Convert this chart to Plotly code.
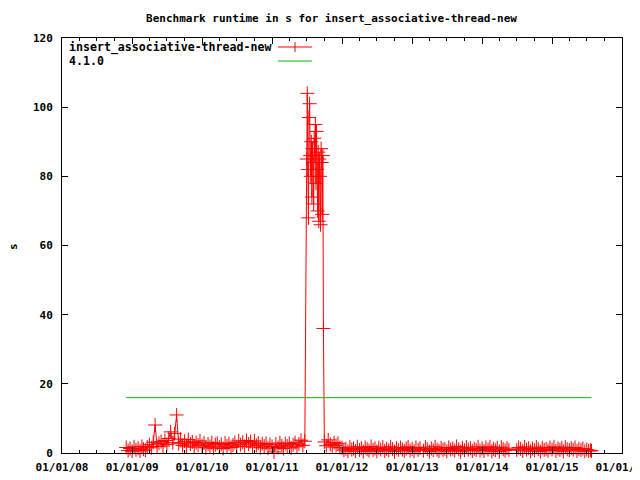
import plotly.graph_objects as go

# ---------------- data ----------------
dates_a = ["2008-12-01", "2008-12-11", "2008-12-21", "2009-01-01", "2009-01-11", "2009-01-21",
           "2009-02-01", "2009-02-11", "2009-02-21", "2009-03-01", "2009-03-11", "2009-03-21"]
vals_a = [1.6, 0.7, 1.3, 0.5, 1.8, 0.9, 1.4, 0.6, 1.9, 1.1, 0.8, 1.7]

dates_b = ["2009-04-01", "2009-04-11", "2009-04-21", "2009-05-01", "2009-05-11", "2009-05-21",
           "2009-06-01", "2009-06-11", "2009-06-21", "2009-07-01", "2009-07-11", "2009-07-21",
           "2009-08-01", "2009-08-11", "2009-08-21", "2009-09-01", "2009-09-11", "2009-09-21",
           "2009-10-01", "2009-10-11", "2009-10-21", "2009-11-01", "2009-11-11", "2009-11-21",
           "2009-12-01", "2009-12-11", "2009-12-21"]
vals_b = [2.4, 1.5, 3.1, 8.1, 1.9, 2.8, 3.3, 2.0, 3.6, 2.5, 4.2, 6.1, 3.0, 5.6, 11.0,
          2.7, 4.0, 2.2, 3.4, 1.8, 3.9, 2.6, 3.2, 1.7, 3.0, 2.3, 3.5]

dates_c = ["2010-01-01", "2010-01-11", "2010-01-21", "2010-02-01", "2010-02-11", "2010-02-21",
           "2010-03-01", "2010-03-11", "2010-03-21", "2010-04-01", "2010-04-11", "2010-04-21",
           "2010-05-01", "2010-05-11", "2010-05-21", "2010-06-01", "2010-06-11", "2010-06-21",
           "2010-07-01", "2010-07-11", "2010-07-21", "2010-08-01", "2010-08-11", "2010-08-21",
           "2010-09-01", "2010-09-11", "2010-09-21", "2010-10-01", "2010-10-11", "2010-10-21",
           "2010-11-01", "2010-11-11", "2010-11-21", "2010-12-01", "2010-12-11", "2010-12-21",
           "2011-01-01", "2011-01-11", "2011-01-21", "2011-02-01", "2011-02-11", "2011-02-21",
           "2011-03-01", "2011-03-11", "2011-03-21", "2011-04-01", "2011-04-11", "2011-04-21",
           "2011-05-01", "2011-05-11", "2011-05-21", "2011-06-01", "2011-06-11", "2011-06-21"]
vals_c = [2.1, 2.9, 1.5, 2.6, 1.9, 3.0, 1.4, 2.4, 2.8, 1.7, 2.5, 1.3, 2.9, 2.0, 2.7, 1.6, 2.3, 3.0,
          1.8, 3.5, 2.4, 3.1, 1.9, 3.6, 2.6, 3.3, 1.7, 3.5, 2.2, 2.9, 1.5, 2.7, 2.0, 2.8, 1.4, 2.5,
          1.9, 0.3, 2.6, 1.6, 2.9, 2.1, 1.3, 2.7, 2.0, 2.8, 1.5, 2.4, 3.0, 1.8, 2.6, 3.7, 2.2, 3.4]

dates_spike = ["2011-07-01", "2011-07-04", "2011-07-07", "2011-07-10", "2011-07-13", "2011-07-16",
               "2011-07-19", "2011-07-22", "2011-07-25", "2011-07-28", "2011-07-31", "2011-08-03",
               "2011-08-06", "2011-08-09", "2011-08-12", "2011-08-15", "2011-08-18", "2011-08-21",
               "2011-08-24", "2011-08-27", "2011-08-30", "2011-09-02", "2011-09-05", "2011-09-08",
               "2011-09-11", "2011-09-14", "2011-09-17", "2011-09-20", "2011-09-23", "2011-09-26"]
vals_spike = [85, 104, 82, 68, 97, 101, 86, 80, 90, 74, 88, 84, 72, 91, 86, 95, 78, 93, 82, 70,
              87, 67, 85, 80, 66, 88, 84, 69, 86, 36]

dates_d = ["2011-10-01", "2011-10-11", "2011-10-21", "2011-11-01", "2011-11-11", "2011-11-21",
           "2011-12-01", "2011-12-11", "2011-12-21"]
vals_d = [3.2, 2.1, 3.8, 2.5, 1.7, 3.0, 2.2, 2.8, 1.6]

dates_e = ["2012-01-01", "2012-01-11", "2012-01-21", "2012-02-01", "2012-02-11", "2012-02-21",
           "2012-03-01", "2012-03-11", "2012-03-21", "2012-04-01", "2012-04-11", "2012-04-21",
           "2012-05-01", "2012-05-11", "2012-05-21", "2012-06-01", "2012-06-11", "2012-06-21",
           "2012-07-01", "2012-07-11", "2012-07-21", "2012-08-01", "2012-08-11", "2012-08-21",
           "2012-09-01", "2012-09-11", "2012-09-21", "2012-10-01", "2012-10-11", "2012-10-21",
           "2012-11-01", "2012-11-11", "2012-11-21", "2012-12-01", "2012-12-11", "2012-12-21",
           "2013-01-01", "2013-01-11", "2013-01-21", "2013-02-01", "2013-02-11",
           "2013-03-01", "2013-03-11", "2013-03-21", "2013-04-01", "2013-04-11", "2013-04-21",
           "2013-05-01", "2013-05-11", "2013-05-21", "2013-06-01", "2013-06-11", "2013-06-21",
           "2013-07-01", "2013-07-11", "2013-07-21", "2013-08-01", "2013-08-11", "2013-08-21",
           "2013-09-01", "2013-09-11", "2013-09-21", "2013-10-01", "2013-10-11", "2013-10-21",
           "2013-11-01", "2013-11-11", "2013-11-21", "2013-12-01", "2013-12-11", "2013-12-21",
           "2014-01-01", "2014-01-11", "2014-01-21", "2014-02-01", "2014-02-11", "2014-02-21",
           "2014-03-01", "2014-03-11", "2014-03-21", "2014-04-01", "2014-04-11", "2014-04-21",
           "2014-05-01", "2014-05-11", "2014-05-21",
           "2014-07-01", "2014-07-11", "2014-07-21", "2014-08-01", "2014-08-11", "2014-08-21",
           "2014-09-01", "2014-09-11", "2014-09-21", "2014-10-01", "2014-10-11", "2014-10-21",
           "2014-11-01", "2014-11-11", "2014-11-21", "2014-12-01", "2014-12-11", "2014-12-21",
           "2015-01-01", "2015-01-11", "2015-01-21", "2015-02-01", "2015-02-11", "2015-02-21",
           "2015-03-01", "2015-03-11", "2015-03-21", "2015-04-01", "2015-04-11", "2015-04-21",
           "2015-05-01", "2015-05-11", "2015-05-21", "2015-06-01", "2015-06-11", "2015-06-21",
           "2015-07-01", "2015-07-11", "2015-07-21", "2015-07-26"]
vals_e = [1.5, 0.8, 1.2, 0.5, 1.7, 1.0, 1.3, 0.6, 1.8, 0.9, 1.4, 0.4, 1.6, 1.1, 0.7, 1.9, 0.9, 1.3,
          0.5, 1.5, 1.0, 1.7, 0.6, 1.2, 0.8, 1.8, 1.1, 0.4, 1.4, 0.9, 1.6, 1.0, 0.6, 1.3, 1.8, 0.7,
          1.2, 0.5, 1.6, 0.9, 1.4,
          0.7, 1.7, 1.1, 0.4, 1.3, 0.8, 1.8, 1.0, 0.6, 1.5, 0.9, 1.2,
          0.5, 1.6, 1.0, 1.3, 0.7, 1.9, 1.1, 0.4, 1.5, 0.8, 1.7, 1.0,
          1.4, 0.6, 1.2, 0.9, 1.8, 0.7,
          1.3, 0.6, 1.6, 1.0, 1.8, 0.5, 1.2, 0.8, 1.5, 0.4, 1.7, 1.1, 0.7, 1.4, 0.9,
          0.9, 1.6, 1.2, 0.6, 1.8, 1.0, 1.4, 0.5, 1.3, 0.8, 1.7, 1.1, 0.4, 1.5, 0.9, 1.2, 0.7, 1.6,
          1.0, 1.8, 0.6, 1.3, 0.9, 1.5, 0.5, 1.7, 1.1, 0.8, 1.4, 1.0, 1.6, 0.6, 1.2, 0.9, 1.3, 0.5,
          1.0, 0.6, 0.8, 0.6]

baseline_value = 16.0

series_name = "insert_associative-thread-new"
baseline_name = "4.1.0"
title_text = "Benchmark runtime in s for insert_associative-thread-new"
y_label = "s"

dates = dates_a + dates_b + dates_c + dates_spike + dates_d + dates_e
values = vals_a + vals_b + vals_c + vals_spike + vals_d + vals_e

# ---------------- figure ----------------
# the page body has an 8px margin, so the figure is 632x472 placed at (8, 8)
OFF = 8
FIG_W, FIG_H = 640 - OFF, 480 - OFF
PL, PR, PT, PB = 62, 622, 38, 453   # plot box in page pixels

FONT = dict(family="DejaVu Sans Mono", size=11, color="black", weight="bold")
KEY_FONT = dict(family="DejaVu Sans Mono", size=11.6, color="black", weight="bold")

fig = go.Figure()
fig.add_trace(go.Scatter(
    x=dates, y=values, mode="lines+markers", name=series_name,
    line=dict(color="#ff0000", width=1),
    marker=dict(symbol="cross-thin", size=10, line=dict(width=1, color="#ff0000"), color="#ff0000"),
    cliponaxis=False, showlegend=False,
))
fig.add_trace(go.Scatter(
    x=[dates[0], dates[-1]], y=[baseline_value, baseline_value], mode="lines", name=baseline_name,
    line=dict(color="#00c000", width=1), showlegend=False,
))


def px_x(px):
    return (px - PL) / (PR - PL)


def px_y(py):
    return (PB - py) / (PB - PT)


annotations = [
    dict(text=series_name, x=px_x(67), y=px_y(47), xref="paper", yref="paper",
         xanchor="left", yanchor="middle", showarrow=False, font=KEY_FONT),
    dict(text=baseline_name, x=px_x(67), y=px_y(61), xref="paper", yref="paper",
         xanchor="left", yanchor="middle", showarrow=False, font=KEY_FONT),
    dict(text=y_label, x=px_x(13), y=px_y(247), xref="paper", yref="paper",
         xanchor="center", yanchor="middle", showarrow=False, textangle=-90, font=FONT),
]
shapes = [
    dict(type="line", xref="paper", yref="paper", x0=px_x(278), x1=px_x(312), y0=px_y(47), y1=px_y(47),
         line=dict(color="#ff0000", width=1)),
    dict(type="line", xref="paper", yref="paper", x0=px_x(295), x1=px_x(295), y0=px_y(42), y1=px_y(52),
         line=dict(color="#ff0000", width=1)),
    dict(type="line", xref="paper", yref="paper", x0=px_x(278), x1=px_x(312), y0=px_y(61), y1=px_y(61),
         line=dict(color="#00c000", width=1)),
]

fig.update_layout(
    width=FIG_W, height=FIG_H,
    margin=dict(l=PL - OFF, r=FIG_W - (PR - OFF), t=PT - OFF, b=FIG_H - (PB - OFF), autoexpand=False),
    paper_bgcolor="white", plot_bgcolor="white",
    font=FONT,
    title=dict(text=title_text, x=(331.5 - OFF) / FIG_W, xref="container", xanchor="center",
               y=1 - (18 - OFF) / FIG_H, yref="container", yanchor="middle", font=FONT),
    annotations=annotations, shapes=shapes,
    showlegend=False,
)
fig.update_xaxes(
    type="date", range=["2008-01-01", "2016-01-01"], dtick="M12", tick0="2008-01-01",
    tickformat="%m/%d/%y", ticks="inside", ticklen=6, tickcolor="black",
    showline=True, linecolor="black", linewidth=1, mirror="ticks",
    showgrid=False, zeroline=False, tickfont=FONT, ticklabeloverflow="allow",
    ticklabelstandoff=4, automargin=False,
    minor=dict(dtick="M3", tick0="2008-01-01", ticks="inside", ticklen=3, tickcolor="black", showgrid=False),
)
fig.update_yaxes(
    range=[0, 120], dtick=20, ticks="inside", ticklen=6, tickcolor="black",
    showline=True, linecolor="black", linewidth=1, mirror="ticks",
    showgrid=False, zeroline=False, tickfont=FONT, ticklabelstandoff=6, automargin=False,
)

fig.write_html("out.html")
